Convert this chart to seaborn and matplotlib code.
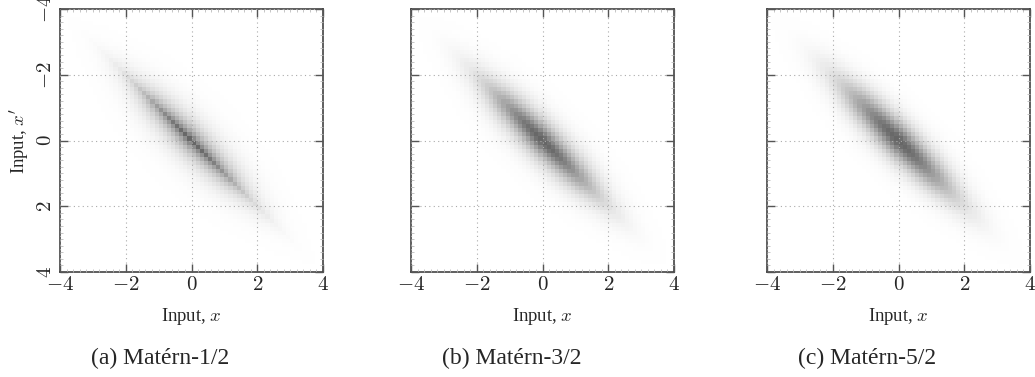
import numpy as np
import pandas as pd
import matplotlib
matplotlib.use("Agg")
import matplotlib.pyplot as plt
from matplotlib.colors import LinearSegmentedColormap
import seaborn as sns

# ---- data / parameters ----
captions = ["(a) Matérn-1/2", "(b) Matérn-3/2", "(c) Matérn-5/2"]
nus = ["1/2", "3/2", "5/2"]
lengthscales = [0.45, 0.5, 0.5]
input_std = [1.6, 1.6, 1.6]
grid_lo, grid_hi, n_cells = -4.0, 4.0, 64
tick_values = [-4, -2, 0, 2, 4]
tick_labels = ["$-4$", "$-2$", "$0$", "$2$", "$4$"]


def matern(r, nu, ell):
    if nu == "1/2":
        return np.exp(-r / ell)
    if nu == "3/2":
        a = np.sqrt(3) * r / ell
        return (1 + a) * np.exp(-a)
    a = np.sqrt(5) * r / ell
    return (1 + a + a ** 2 / 3) * np.exp(-a)


edges = np.linspace(grid_lo, grid_hi, n_cells + 1)
centers = 0.5 * (edges[:-1] + edges[1:])

sns.set_theme(style="white")
plt.rcParams["font.family"] = ["Liberation Serif", "DejaVu Serif"]
plt.rcParams["mathtext.fontset"] = "cm"

cmap = LinearSegmentedColormap.from_list("gr", ["#ffffff", "#666666"])

fig = plt.figure(figsize=(10.35, 3.77), dpi=100)
lefts = [60 / 1035, 411 / 1035, 767 / 1035]
bottom = 105 / 377
w = 263 / 1035
h = 263 / 377


def to_cell(v):
    return (np.asarray(v, dtype=float) - grid_lo) / (grid_hi - grid_lo) * n_cells


for i in range(3):
    ax = fig.add_axes([lefts[i], bottom, w, h])
    X, XP = np.meshgrid(centers, centers)  # rows: x', cols: x
    vals = matern(np.abs(X - XP), nus[i], lengthscales[i]) * np.exp(
        -(X ** 2 + XP ** 2) / (2 * input_std[i] ** 2))
    df = pd.DataFrame(vals, index=centers, columns=centers)
    sns.heatmap(df, ax=ax, cmap=cmap, vmin=0, vmax=1, cbar=False,
                xticklabels=False, yticklabels=False, rasterized=True)
    for sp in ax.spines.values():
        sp.set_visible(True)
        sp.set_color("#333333")
        sp.set_linewidth(1.1)
    ax.set_xticks(to_cell(tick_values))
    ax.set_yticks(to_cell(tick_values))
    minor = np.arange(-4, 4.001, 0.2)
    ax.set_xticks(to_cell(minor), minor=True)
    ax.set_yticks(to_cell(minor), minor=True)
    ax.set_xticklabels(tick_labels, fontsize=15)
    if i == 0:
        ax.set_yticklabels(tick_labels, fontsize=15, rotation=90, va="center")
    else:
        ax.set_yticklabels([])
    ax.tick_params(which="major", direction="in", length=6, width=1.0,
                   color="#555555", top=True, right=True, bottom=True, left=True,
                   pad=3)
    ax.tick_params(which="minor", direction="in", length=2, width=0.6,
                   color="#bbbbbb", top=True, right=True, bottom=True, left=True)
    ax.set_axisbelow(False)
    ax.grid(True, which="major", linestyle=(0, (1, 3)), color="#aaaaaa",
            linewidth=0.8)
    ax.set_xlim(0, n_cells)
    ax.set_ylim(n_cells, 0)
    ax.set_xlabel("Input, $x$", fontsize=13.5, labelpad=8)
    if i == 0:
        ax.set_ylabel("Input, $x'$", fontsize=13.5, labelpad=4)
    cx = lefts[i] + w / 2 - 31 / 1035
    fig.text(cx, 19 / 377, captions[i], ha="center", va="center", fontsize=17)

fig.savefig("out.png", dpi=100)
